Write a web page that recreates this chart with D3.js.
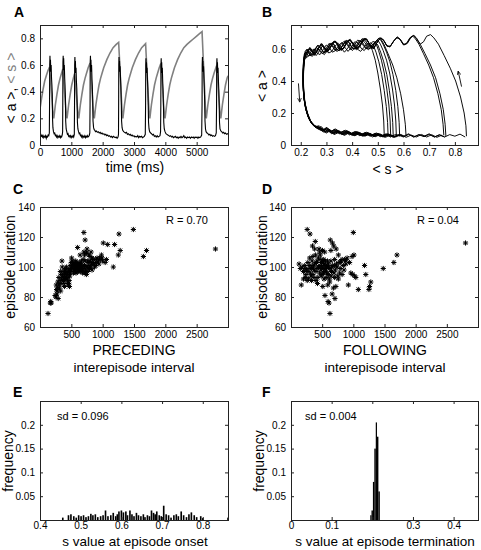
<!DOCTYPE html>
<html><head><meta charset="utf-8">
<script src="https://cdn.jsdelivr.net/npm/d3@7"></script>
<style>body{margin:0;background:#fff}svg{display:block}</style>
</head><body><svg id="c" width="481" height="550"></svg>
<script>
// ---------------- DATA ----------------
// Panel A: time series (ms, value)
const aTrace = [[0,0.08],[20,0.07],[40,0.065],[60,0.075],[80,0.06],[100,0.07],[120,0.055],[140,0.065],[160,0.06],[180,0.07],[200,0.05],[220,0.065],[240,0.06],[260,0.075],[280,0.07],[298,0.09],
[305,0.3],[310,0.6],[318,0.67],[326,0.6],[334,0.64],[345,0.55],[356,0.6],[368,0.5],[380,0.45],[392,0.38],[400,0.2],[412,0.13],[430,0.1],[450,0.085],[470,0.09],[490,0.07],[510,0.075],[530,0.06],[550,0.07],[570,0.055],[590,0.065],[610,0.06],[630,0.07],[650,0.055],[670,0.065],[690,0.06],[710,0.075],[722,0.1],
[728,0.35],[732,0.62],[740,0.67],[748,0.6],[756,0.65],[766,0.56],[776,0.6],[788,0.5],[800,0.44],[812,0.35],[820,0.18],[835,0.12],[855,0.1],[875,0.08],[895,0.085],[915,0.065],[935,0.07],[955,0.06],[975,0.07],[995,0.055],[1015,0.065],[1035,0.06],[1055,0.07],[1075,0.06],[1095,0.08],
[1102,0.3],[1106,0.6],[1114,0.66],[1122,0.58],[1130,0.63],[1140,0.54],[1150,0.58],[1162,0.48],[1175,0.42],[1186,0.3],[1194,0.17],[1210,0.12],[1230,0.1],[1250,0.085],[1270,0.09],[1290,0.07],[1310,0.075],[1330,0.06],[1350,0.07],[1370,0.055],[1390,0.065],[1410,0.06],[1430,0.07],[1450,0.055],[1470,0.065],[1490,0.06],[1510,0.07],[1530,0.06],[1550,0.065],[1570,0.07],[1590,0.09],
[1598,0.3],[1602,0.62],[1610,0.67],[1618,0.6],[1626,0.64],[1636,0.55],[1646,0.6],[1658,0.5],[1670,0.44],[1682,0.33],[1692,0.18],[1710,0.13],[1730,0.115],[1750,0.11],[1770,0.1],[1800,0.105],[1830,0.095],[1860,0.1],[1890,0.09],[1920,0.095],[1950,0.085],[1980,0.09],[2010,0.08],[2040,0.085],[2070,0.075],[2100,0.08],[2130,0.07],[2160,0.075],[2190,0.065],[2220,0.07],[2250,0.06],[2280,0.065],[2310,0.055],[2340,0.065],[2370,0.06],[2400,0.055],[2430,0.06],[2460,0.05],[2490,0.06],[2505,0.08],
[2510,0.3],[2514,0.6],[2522,0.66],[2530,0.58],[2538,0.63],[2548,0.55],[2558,0.59],[2570,0.5],[2582,0.43],[2594,0.32],[2604,0.18],[2620,0.13],[2640,0.11],[2670,0.1],[2700,0.095],[2730,0.09],[2760,0.095],[2790,0.08],[2820,0.085],[2850,0.075],[2880,0.08],[2910,0.07],[2940,0.075],[2970,0.065],[3000,0.07],[3030,0.06],[3060,0.065],[3090,0.06],[3120,0.07],[3150,0.055],[3180,0.065],[3210,0.06],[3240,0.065],[3270,0.055],[3300,0.06],[3330,0.065],[3360,0.08],
[3370,0.3],[3374,0.6],[3382,0.65],[3390,0.58],[3398,0.62],[3408,0.54],[3418,0.58],[3430,0.49],[3442,0.42],[3454,0.3],[3464,0.17],[3480,0.12],[3500,0.1],[3530,0.09],[3560,0.085],[3590,0.075],[3620,0.08],[3650,0.065],[3680,0.07],[3710,0.06],[3740,0.07],[3770,0.06],[3800,0.065],[3830,0.07],[3848,0.1],
[3856,0.3],[3860,0.6],[3868,0.65],[3876,0.58],[3884,0.62],[3894,0.54],[3904,0.58],[3916,0.48],[3928,0.41],[3940,0.3],[3950,0.17],[3966,0.12],[3990,0.1],[4020,0.085],[4050,0.08],[4080,0.075],[4110,0.07],[4140,0.065],[4170,0.07],[4200,0.06],[4230,0.065],[4260,0.055],[4290,0.06],[4320,0.065],[4350,0.055],[4380,0.06],[4410,0.05],[4440,0.06],[4470,0.055],[4500,0.065],[4530,0.055],[4560,0.06],[4590,0.07],[4620,0.055],[4650,0.06],[4680,0.05],[4710,0.06],[4740,0.055],[4770,0.06],[4800,0.05],[4830,0.06],[4860,0.055],[4890,0.06],[4920,0.05],[4950,0.06],[4980,0.055],[5010,0.06],[5040,0.05],[5070,0.06],[5100,0.055],[5130,0.06],[5160,0.075],
[5172,0.3],[5176,0.6],[5184,0.66],[5192,0.58],[5200,0.63],[5210,0.55],[5220,0.59],[5232,0.5],[5244,0.43],[5256,0.32],[5266,0.18],[5282,0.12],[5300,0.1],[5330,0.09],[5360,0.085],[5390,0.075],[5420,0.08],[5450,0.07],[5480,0.075],[5510,0.065],[5540,0.07],[5570,0.065],[5600,0.07],[5625,0.09],
[5635,0.3],[5639,0.6],[5647,0.65],[5655,0.58],[5663,0.62],[5673,0.54],[5683,0.58],[5695,0.48],[5707,0.41],[5719,0.3],[5729,0.17],[5745,0.12],[5770,0.105],[5800,0.1],[5830,0.09],[5860,0.095],[5890,0.085],[5920,0.09],[5950,0.08],[5980,0.085],[6000,0.08]];

const sTrace = [[0,0.27],[50,0.35],[100,0.42],[150,0.48],[200,0.52],[250,0.555],[305,0.585],
[335,0.49],[365,0.39],[395,0.3],[425,0.21],[440,0.2],
[465,0.25],[490,0.3],[540,0.38],[590,0.45],[640,0.5],[690,0.54],[728,0.57],
[758,0.47],[788,0.38],[818,0.29],[848,0.21],[863,0.2],
[888,0.25],[913,0.3],[963,0.38],[1013,0.45],[1063,0.5],[1102,0.535],
[1132,0.45],[1162,0.37],[1192,0.285],[1222,0.21],[1237,0.2],
[1262,0.25],[1287,0.3],[1337,0.38],[1387,0.45],[1437,0.5],[1487,0.54],[1537,0.58],[1598,0.615],
[1628,0.51],[1658,0.41],[1688,0.3],[1718,0.21],[1733,0.2],
[1758,0.25],[1783,0.3],[1833,0.38],[1883,0.45],[1933,0.5],[1983,0.54],[2033,0.58],[2133,0.64],[2233,0.69],[2333,0.73],[2433,0.755],[2510,0.77],
[2540,0.63],[2570,0.48],[2600,0.34],[2630,0.21],[2645,0.2],
[2670,0.25],[2695,0.3],[2745,0.38],[2795,0.45],[2845,0.5],[2895,0.54],[2945,0.58],[3045,0.64],[3145,0.69],[3245,0.73],[3370,0.76],
[3400,0.62],[3430,0.48],[3460,0.34],[3490,0.21],[3505,0.2],
[3530,0.25],[3555,0.3],[3605,0.38],[3655,0.45],[3705,0.5],[3755,0.54],[3805,0.58],[3856,0.61],
[3886,0.51],[3916,0.41],[3946,0.3],[3976,0.21],[3991,0.2],
[4016,0.25],[4041,0.3],[4091,0.38],[4141,0.45],[4191,0.5],[4241,0.54],[4291,0.58],[4391,0.64],[4491,0.69],[4591,0.73],[4691,0.755],[4791,0.775],[4891,0.795],[4991,0.815],[5091,0.835],[5172,0.85],
[5202,0.69],[5232,0.53],[5262,0.37],[5292,0.21],[5307,0.2],
[5332,0.25],[5357,0.3],[5407,0.38],[5457,0.45],[5507,0.5],[5557,0.54],[5635,0.595],
[5665,0.5],[5695,0.4],[5725,0.3],[5755,0.21],[5770,0.2],
[5795,0.25],[5820,0.3],[5870,0.38],[5920,0.45],[5970,0.5],[6000,0.52]];

// Panel B: phase-plane trajectories (<s>, <a>), one loop per episode
const bLoops = [
[[0.845,0.055],[0.843,0.12],[0.836,0.2],[0.822,0.3],[0.803,0.4],[0.782,0.48],[0.758,0.56],[0.736,0.63],[0.718,0.67],[0.705,0.69],[0.69,0.68],[0.678,0.645],[0.665,0.63],[0.652,0.66],[0.64,0.685],[0.628,0.67],[0.615,0.635],[0.6,0.625],[0.587,0.66],[0.575,0.675],[0.562,0.65],[0.548,0.615],[0.535,0.62],[0.522,0.655],[0.51,0.67],[0.497,0.64],[0.483,0.605],[0.47,0.62],[0.458,0.66],[0.445,0.665],[0.432,0.625],[0.418,0.6],[0.405,0.63],[0.393,0.66],[0.38,0.645],[0.367,0.605],[0.354,0.6],[0.342,0.64],[0.33,0.65],[0.317,0.615],[0.304,0.585],[0.292,0.61],[0.28,0.635],[0.268,0.6],[0.256,0.57],[0.245,0.59],[0.235,0.61],[0.225,0.58],[0.215,0.56],[0.21,0.5],[0.208,0.42],[0.21,0.34],[0.215,0.27],[0.223,0.21],[0.233,0.16],[0.247,0.125],[0.262,0.105],[0.28,0.09],[0.3,0.1],[0.32,0.075],[0.34,0.09],[0.36,0.07],[0.38,0.085],[0.4,0.065],[0.42,0.08],[0.44,0.06],[0.46,0.075],[0.48,0.06],[0.5,0.07],[0.52,0.055],[0.54,0.07],[0.56,0.05],[0.58,0.065],[0.6,0.055],[0.62,0.07],[0.64,0.05],[0.66,0.065],[0.68,0.055],[0.7,0.07],[0.72,0.05],[0.74,0.065],[0.76,0.05],[0.78,0.065],[0.8,0.055],[0.82,0.068],[0.84,0.05]],
[[0.765,0.055],[0.762,0.13],[0.755,0.22],[0.742,0.32],[0.725,0.42],[0.705,0.5],[0.684,0.57],[0.665,0.63],[0.65,0.67],[0.64,0.685],[0.628,0.675],[0.615,0.64],[0.602,0.625],[0.59,0.655],[0.577,0.675],[0.564,0.655],[0.55,0.62],[0.537,0.615],[0.525,0.65],[0.512,0.67],[0.5,0.65],[0.487,0.61],[0.474,0.615],[0.461,0.65],[0.449,0.665],[0.436,0.635],[0.422,0.6],[0.409,0.615],[0.396,0.65],[0.384,0.655],[0.371,0.615],[0.358,0.59],[0.346,0.62],[0.334,0.65],[0.321,0.63],[0.308,0.59],[0.296,0.595],[0.284,0.63],[0.272,0.615],[0.26,0.575],[0.248,0.575],[0.238,0.605],[0.228,0.59],[0.218,0.56],[0.212,0.52],[0.209,0.44],[0.21,0.36],[0.214,0.28],[0.221,0.22],[0.231,0.17],[0.244,0.13],[0.26,0.11],[0.275,0.1],[0.29,0.08],[0.305,0.095],[0.32,0.07],[0.34,0.085],[0.36,0.065],[0.38,0.08],[0.4,0.06],[0.42,0.075],[0.44,0.055],[0.46,0.07],[0.48,0.05],[0.5,0.068],[0.52,0.05],[0.54,0.065],[0.56,0.048],[0.58,0.062],[0.6,0.05],[0.62,0.066],[0.64,0.05],[0.66,0.064],[0.68,0.052],[0.7,0.066],[0.72,0.05],[0.74,0.062],[0.76,0.05]],
[[0.757,0.06],[0.754,0.13],[0.747,0.22],[0.734,0.32],[0.717,0.42],[0.698,0.5],[0.678,0.57],[0.66,0.63],[0.646,0.665],[0.636,0.68],[0.624,0.668],[0.611,0.632],[0.598,0.63],[0.586,0.662],[0.573,0.67],[0.56,0.645],[0.546,0.612],[0.533,0.625],[0.521,0.66],[0.508,0.665],[0.495,0.635],[0.482,0.6],[0.469,0.625],[0.457,0.66],[0.444,0.655],[0.43,0.615],[0.417,0.595],[0.404,0.63],[0.392,0.655],[0.379,0.64],[0.366,0.6],[0.353,0.595],[0.341,0.635],[0.329,0.645],[0.316,0.61],[0.303,0.58],[0.291,0.605],[0.279,0.63],[0.267,0.6],[0.255,0.565],[0.244,0.585],[0.234,0.605],[0.224,0.575],[0.216,0.55],[0.211,0.49],[0.21,0.41],[0.212,0.33],[0.217,0.26],[0.226,0.2],[0.237,0.155],[0.251,0.125],[0.267,0.11],[0.285,0.095],[0.3,0.075],[0.315,0.09],[0.33,0.065],[0.35,0.08],[0.37,0.06],[0.39,0.078],[0.41,0.058],[0.43,0.072],[0.45,0.055],[0.47,0.07],[0.49,0.052],[0.51,0.066],[0.53,0.048],[0.55,0.064],[0.57,0.05],[0.59,0.066],[0.61,0.048],[0.63,0.062],[0.65,0.05],[0.67,0.066],[0.69,0.05],[0.71,0.064],[0.73,0.048],[0.75,0.062]],
[[0.61,0.055],[0.607,0.13],[0.6,0.22],[0.589,0.32],[0.574,0.42],[0.558,0.5],[0.54,0.57],[0.525,0.625],[0.513,0.66],[0.505,0.67],[0.493,0.65],[0.48,0.615],[0.467,0.63],[0.455,0.665],[0.442,0.66],[0.428,0.62],[0.415,0.6],[0.402,0.635],[0.39,0.66],[0.377,0.64],[0.364,0.6],[0.351,0.6],[0.339,0.64],[0.327,0.645],[0.314,0.605],[0.301,0.58],[0.289,0.61],[0.277,0.625],[0.265,0.59],[0.253,0.56],[0.242,0.59],[0.232,0.6],[0.222,0.57],[0.214,0.54],[0.21,0.47],[0.209,0.39],[0.211,0.31],[0.216,0.25],[0.225,0.195],[0.236,0.15],[0.25,0.12],[0.266,0.105],[0.28,0.115],[0.295,0.085],[0.31,0.1],[0.325,0.075],[0.345,0.09],[0.365,0.07],[0.385,0.085],[0.405,0.065],[0.425,0.08],[0.445,0.06],[0.465,0.075],[0.485,0.058],[0.505,0.07],[0.525,0.052],[0.545,0.066],[0.565,0.05],[0.585,0.064],[0.605,0.052]],
[[0.525,0.06],[0.523,0.15],[0.518,0.25],[0.51,0.35],[0.5,0.45],[0.49,0.53],[0.479,0.59],[0.47,0.625],[0.458,0.635],[0.446,0.61],[0.433,0.585],[0.42,0.6],[0.408,0.635],[0.396,0.64],[0.383,0.605],[0.37,0.58],[0.358,0.605],[0.346,0.635],[0.334,0.62],[0.321,0.585],[0.309,0.575],[0.297,0.605],[0.285,0.62],[0.273,0.59],[0.261,0.56],[0.25,0.57],[0.24,0.595],[0.23,0.58],[0.221,0.55],[0.214,0.53],[0.211,0.46],[0.21,0.38],[0.213,0.3],[0.219,0.24],[0.228,0.19],[0.24,0.145],[0.255,0.12],[0.27,0.1],[0.285,0.105],[0.3,0.08],[0.315,0.095],[0.33,0.07],[0.35,0.088],[0.37,0.065],[0.39,0.08],[0.41,0.06],[0.43,0.078],[0.45,0.058],[0.47,0.072],[0.49,0.055],[0.51,0.068],[0.525,0.055]],
[[0.54,0.055],[0.538,0.14],[0.533,0.24],[0.525,0.34],[0.515,0.44],[0.504,0.52],[0.493,0.58],[0.483,0.62],[0.472,0.64],[0.46,0.62],[0.447,0.59],[0.435,0.605],[0.422,0.64],[0.41,0.645],[0.397,0.61],[0.384,0.585],[0.372,0.61],[0.36,0.64],[0.348,0.625],[0.335,0.59],[0.323,0.58],[0.311,0.61],[0.299,0.625],[0.287,0.595],[0.275,0.565],[0.263,0.575],[0.252,0.6],[0.242,0.59],[0.232,0.56],[0.222,0.545],[0.215,0.56],[0.212,0.5],[0.21,0.42],[0.211,0.34],[0.215,0.27],[0.222,0.215],[0.232,0.165],[0.245,0.13],[0.26,0.11],[0.275,0.11],[0.29,0.09],[0.305,0.105],[0.32,0.08],[0.34,0.095],[0.36,0.072],[0.38,0.09],[0.4,0.068],[0.42,0.082],[0.44,0.062],[0.46,0.078],[0.48,0.058],[0.5,0.072],[0.52,0.055],[0.54,0.065]],
[[0.55,0.06],[0.548,0.15],[0.543,0.25],[0.535,0.35],[0.525,0.45],[0.514,0.53],[0.503,0.59],[0.494,0.63],[0.483,0.65],[0.471,0.63],[0.458,0.6],[0.446,0.615],[0.433,0.65],[0.421,0.655],[0.408,0.62],[0.395,0.595],[0.383,0.62],[0.371,0.65],[0.359,0.635],[0.346,0.6],[0.334,0.59],[0.322,0.62],[0.31,0.635],[0.298,0.6],[0.286,0.57],[0.274,0.585],[0.262,0.61],[0.251,0.595],[0.24,0.565],[0.23,0.555],[0.221,0.58],[0.214,0.57],[0.21,0.51],[0.209,0.43],[0.21,0.35],[0.214,0.28],[0.22,0.22],[0.23,0.17],[0.243,0.135],[0.258,0.115],[0.272,0.12],[0.287,0.095],[0.302,0.11],[0.317,0.085],[0.335,0.1],[0.355,0.078],[0.375,0.092],[0.395,0.07],[0.415,0.085],[0.435,0.065],[0.455,0.08],[0.475,0.06],[0.495,0.075],[0.515,0.056],[0.535,0.07],[0.55,0.058]],
[[0.56,0.055],[0.558,0.14],[0.553,0.24],[0.545,0.34],[0.535,0.44],[0.523,0.52],[0.511,0.58],[0.5,0.625],[0.489,0.645],[0.477,0.625],[0.464,0.595],[0.452,0.61],[0.439,0.645],[0.427,0.65],[0.414,0.615],[0.401,0.59],[0.389,0.615],[0.377,0.645],[0.365,0.63],[0.352,0.595],[0.34,0.585],[0.328,0.615],[0.316,0.63],[0.304,0.595],[0.292,0.565],[0.28,0.58],[0.268,0.605],[0.257,0.585],[0.246,0.555],[0.236,0.56],[0.226,0.585],[0.217,0.575],[0.212,0.53],[0.21,0.45],[0.21,0.37],[0.213,0.29],[0.219,0.23],[0.228,0.18],[0.24,0.14],[0.255,0.115],[0.27,0.105],[0.285,0.085],[0.3,0.1],[0.315,0.078],[0.33,0.092],[0.35,0.07],[0.37,0.085],[0.39,0.063],[0.41,0.078],[0.43,0.058],[0.45,0.073],[0.47,0.055],[0.49,0.07],[0.51,0.052],[0.53,0.066],[0.55,0.05],[0.56,0.06]],
[[0.572,0.06],[0.57,0.15],[0.565,0.25],[0.557,0.35],[0.546,0.45],[0.534,0.53],[0.521,0.59],[0.51,0.63],[0.5,0.655],[0.488,0.64],[0.475,0.605],[0.462,0.605],[0.45,0.64],[0.437,0.66],[0.424,0.63],[0.411,0.6],[0.398,0.61],[0.386,0.645],[0.374,0.65],[0.361,0.615],[0.348,0.59],[0.336,0.605],[0.324,0.64],[0.312,0.625],[0.3,0.585],[0.288,0.58],[0.276,0.615],[0.264,0.62],[0.253,0.58],[0.242,0.56],[0.232,0.58],[0.223,0.595],[0.215,0.565],[0.211,0.5],[0.209,0.42],[0.21,0.34],[0.215,0.27],[0.223,0.21],[0.234,0.16],[0.248,0.125],[0.264,0.105],[0.28,0.1],[0.295,0.078],[0.31,0.094],[0.327,0.07],[0.345,0.086],[0.365,0.064],[0.385,0.08],[0.405,0.06],[0.425,0.075],[0.445,0.056],[0.465,0.072],[0.485,0.054],[0.505,0.068],[0.525,0.05],[0.545,0.066],[0.565,0.05],[0.572,0.06]],
[[0.585,0.055],[0.583,0.14],[0.578,0.24],[0.57,0.34],[0.559,0.44],[0.547,0.52],[0.534,0.58],[0.522,0.625],[0.512,0.655],[0.503,0.665],[0.491,0.645],[0.478,0.61],[0.465,0.615],[0.453,0.65],[0.44,0.665],[0.427,0.635],[0.414,0.6],[0.401,0.605],[0.389,0.64],[0.377,0.655],[0.364,0.625],[0.351,0.59],[0.339,0.6],[0.327,0.635],[0.315,0.635],[0.303,0.6],[0.291,0.575],[0.279,0.6],[0.267,0.625],[0.256,0.6],[0.245,0.565],[0.235,0.57],[0.225,0.6],[0.217,0.585],[0.212,0.54],[0.209,0.46],[0.209,0.38],[0.212,0.3],[0.218,0.235],[0.227,0.185],[0.239,0.145],[0.254,0.118],[0.27,0.115],[0.285,0.09],[0.3,0.108],[0.315,0.082],[0.332,0.098],[0.35,0.075],[0.37,0.09],[0.39,0.068],[0.41,0.083],[0.43,0.062],[0.45,0.077],[0.47,0.058],[0.49,0.073],[0.51,0.055],[0.53,0.068],[0.55,0.052],[0.57,0.066],[0.585,0.055]]
];
const bArrows = [[[0.191,0.385],[0.196,0.27]],[[0.826,0.365],[0.813,0.46]]];

// Panel C: preceding interepisode interval (ms) vs episode duration (ms)
const cPoints = [[128,69],[165,76],[172,77],[178,76],[240,81],[255,80],[270,82],[290,79],[265,85],[280,86],[300,88],[285,90],[310,86],[320,91],[330,89],[345,92],[300,93],[260,88],[275,84],[350,104],[355,100],[370,97],[380,95],[390,93],[400,96],[410,99],[420,94],[430,92],[440,90],[450,88],[460,95],[470,97],[480,99],[490,101],[500,103],[505,106],[515,104],[520,101],[530,99],[540,98],[550,100],[560,102],[570,104],[580,101],[590,99],[600,100],[610,98],[620,97],[630,101],[640,99],[650,97],[660,100],[670,98],[680,96],[700,97],[720,96],[740,95],[600,113],[700,123],[720,118],[735,109],[745,110],[760,104],[770,103],[780,101],[800,104],[820,102],[830,106],[850,105],[880,105],[900,103],[930,104],[950,106],[980,108],[1000,104],[1010,116],[1040,103],[1060,105],[1080,115],[1170,100],[1190,115],[1250,108],[1260,122],[1280,111],[1490,125],[1650,107],[1700,111],[2800,112],[360,94],[375,91],[395,98],[405,92],[415,97],[425,100],[435,96],[445,93],[455,98],[465,91],[475,94],[485,96],[495,98],[510,100],[525,102],[535,96],[545,103],[555,97],[565,99],[575,96],[585,103],[595,97],[605,102],[615,100],[625,98],[635,103],[645,101],[655,99],[665,102],[675,100],[690,99],[710,101],[730,98],[750,100],[760,97],[790,99],[810,100],[840,103],[860,102],[870,100],[890,101],[910,106],[940,102],[960,105],[990,106],[640,108],[660,104],[700,110],[710,108],[690,105],[750,112],[780,108],[800,107],[815,110],[830,98],[720,104],[740,100],[470,87],[455,89],[380,89],[390,87],[330,84],[340,95],[325,97]];
// Panel D: following interepisode interval (ms) vs episode duration (ms)
const dPoints = [[130,102],[150,99],[165,88],[180,100],[200,97],[220,101],[240,95],[250,98],[260,125],[270,103],[280,92],[290,99],[300,101],[305,122],[310,96],[320,94],[330,91],[340,104],[345,114],[350,107],[360,100],[370,98],[380,112],[390,117],[395,108],[400,97],[410,103],[420,99],[425,89],[430,93],[440,106],[450,112],[460,110],[470,101],[480,98],[485,94],[490,103],[500,100],[505,111],[510,87],[520,99],[525,105],[530,102],[540,97],[545,81],[550,104],[560,98],[565,93],[570,100],[580,101],[590,88],[595,77],[600,102],[610,76],[615,92],[620,99],[625,69],[630,118],[640,104],[645,94],[650,97],[660,82],[665,116],[670,101],[680,86],[685,114],[690,96],[700,105],[705,79],[710,98],[720,87],[725,112],[740,100],[750,94],[760,108],[770,103],[780,96],[790,99],[800,104],[820,105],[840,101],[860,105],[880,102],[900,106],[920,88],[940,103],[960,96],[980,107],[990,95],[1000,123],[1010,108],[1020,94],[1040,93],[1080,85],[1180,101],[1200,95],[1250,85],[1260,87],[1280,90],[1480,99],[1650,103],[1700,108],[2800,116],[230,93],[260,91],[300,106],[330,99],[350,95],[380,102],[400,91],[420,104],[440,100],[460,96],[470,108],[500,95],[510,104],[530,92],[540,110],[555,101],[575,96],[585,104],[600,95],[620,90],[640,111],[660,100],[700,93],[730,102],[760,92],[790,103],[820,95],[850,98],[880,104],[230,99],[270,97],[350,101],[370,93],[450,100],[480,105],[520,96],[600,100],[700,101],[200,92]];

// Panel E: histogram of s at onset (bin centre, frequency)
const eBinWidth = 0.004;
const eBins = [[0.456,0.005],[0.47,0.01],[0.476,0.012],[0.483,0.008],[0.489,0.005],[0.495,0.01],[0.501,0.008],[0.507,0.01],[0.513,0.006],[0.519,0.008],[0.525,0.013],[0.53,0.01],[0.536,0.012],[0.542,0.006],[0.549,0.008],[0.555,0.01],[0.561,0.02],[0.567,0.008],[0.574,0.01],[0.58,0.015],[0.586,0.008],[0.59,0.012],[0.594,0.018],[0.6,0.02],[0.605,0.016],[0.611,0.018],[0.615,0.01],[0.621,0.02],[0.626,0.012],[0.631,0.008],[0.637,0.015],[0.642,0.01],[0.648,0.008],[0.654,0.012],[0.658,0.006],[0.664,0.01],[0.669,0.008],[0.674,0.02],[0.679,0.015],[0.683,0.012],[0.687,0.018],[0.693,0.01],[0.698,0.008],[0.704,0.03],[0.71,0.012],[0.716,0.01],[0.722,0.005],[0.729,0.01],[0.735,0.012],[0.74,0.008],[0.747,0.018],[0.753,0.01],[0.76,0.006],[0.766,0.012],[0.772,0.016],[0.779,0.01],[0.785,0.006],[0.795,0.008],[0.8,0.004],[0.862,0.005]];
// Panel F: histogram of s at termination (bin start, bin end, frequency)
const fBins = [[0.195,0.198,0.01],[0.198,0.2015,0.02],[0.2015,0.205,0.08],[0.205,0.2085,0.15],[0.2085,0.2115,0.205],[0.2115,0.215,0.175],[0.215,0.2185,0.06]];

// Axes ticks
const aXTicks=[0,1000,2000,3000,4000,5000], aYTicks=[0,0.2,0.4,0.6,0.8];
const bXTicks=[0.2,0.3,0.4,0.5,0.6,0.7,0.8], bYTicks=[0,0.2,0.4,0.6];
const cdXTicks=[500,1000,1500,2000,2500], cdYTicks=[60,80,100,120,140];
const eXTicks=[0.4,0.5,0.6,0.7,0.8], fXTicks=[0,0.1,0.2,0.3,0.4], efYTicks=[0.05,0.1,0.15,0.2];
const fXTickLabels=["0","0.1","","0.3","0.4"];

// ---------------- DRAWING ----------------
const FONT='"Liberation Sans", Arial, Helvetica, sans-serif';
const svg=d3.select("#c").attr("font-family",FONT);
const defs=svg.append("defs");
defs.append("marker").attr("id","ah").attr("viewBox","0 0 6 6").attr("refX",5).attr("refY",3)
  .attr("markerWidth",5).attr("markerHeight",5).attr("orient","auto")
  .append("path").attr("d","M0,0.5L5.5,3L0,5.5").attr("fill","none").attr("stroke","#000").attr("stroke-width",1);

function makePanel(id,box,xd,yd){
  const x=d3.scaleLinear().domain(xd).range([box[0],box[1]]);
  const y=d3.scaleLinear().domain(yd).range([box[3],box[2]]);
  defs.append("clipPath").attr("id","clip"+id).append("rect")
    .attr("x",box[0]).attr("y",box[2]).attr("width",box[1]-box[0]).attr("height",box[3]-box[2]);
  const g=svg.append("g").attr("clip-path",`url(#clip${id})`);
  return {x,y,box,g};
}
function fmt(v){return String(+v.toFixed(4));}
function drawAxes(p,xt,yt,xfmt,yfmt,xpad){
  const [x0,x1,y0,y1]=p.box;
  const g=svg.append("g").attr("font-family",FONT);
  const fs=10;
  g.append("g").attr("transform",`translate(0,${y1})`)
    .call(d3.axisBottom(p.x).tickValues(xt).tickSizeInner(-3).tickSizeOuter(0).tickPadding(xpad==null?4:xpad).tickFormat(xfmt||fmt));
  g.append("g").attr("transform",`translate(0,${y0})`)
    .call(d3.axisTop(p.x).tickValues(xt).tickSizeInner(-3).tickSizeOuter(0).tickFormat(""));
  g.append("g").attr("transform",`translate(${x0},0)`)
    .call(d3.axisLeft(p.y).tickValues(yt).tickSizeInner(-3).tickSizeOuter(0).tickPadding(5).tickFormat(yfmt||fmt));
  g.append("g").attr("transform",`translate(${x1},0)`)
    .call(d3.axisRight(p.y).tickValues(yt).tickSizeInner(-3).tickSizeOuter(0).tickFormat(""));
  g.selectAll(".domain").remove();
  g.selectAll(".tick line").attr("stroke","#222");
  g.selectAll("text").attr("font-size",fs).attr("font-family",FONT).attr("fill","#000");
  g.append("rect").attr("x",x0+0.5).attr("y",y0+0.5).attr("width",x1-x0).attr("height",y1-y0)
    .attr("fill","none").attr("stroke","#222").attr("stroke-width",1);
}
function text(x,y,s,opt={}){
  const t=svg.append("text").attr("x",x).attr("y",y).text(s)
    .attr("font-size",opt.size||14).attr("text-anchor",opt.anchor||"middle")
    .attr("font-weight",opt.weight||"normal").attr("fill",opt.fill||"#000");
  if(opt.rot) t.attr("transform",`rotate(-90,${x},${y})`);
  return t;
}

// Panel A
const pA=makePanel("A",[40,228,25,145],[0,6000],[0,0.9]);
pA.g.append("path").datum(sTrace).attr("fill","none").attr("stroke","#808080").attr("stroke-width",1.6)
  .attr("d",d3.line().x(d=>pA.x(d[0])).y(d=>pA.y(d[1])));
pA.g.append("path").datum(aTrace).attr("fill","none").attr("stroke","#000").attr("stroke-width",1.1)
  .attr("d",d3.line().x(d=>pA.x(d[0])).y(d=>pA.y(d[1])));
drawAxes(pA,aXTicks,aYTicks);

// Panel B
const pB=makePanel("B",[291,478,25,145],[0.162,0.89],[0,0.75]);
const bLine=d3.line().x(d=>pB.x(d[0])).y(d=>pB.y(d[1]));
pB.g.selectAll("path.loop").data(bLoops).join("path").attr("class","loop")
  .attr("fill","none").attr("stroke","#000").attr("stroke-width",0.95).attr("d",bLine);
svg.selectAll("path.arr").data(bArrows).join("path").attr("class","arr")
  .attr("fill","none").attr("stroke","#000").attr("stroke-width",0.9).attr("marker-end","url(#ah)").attr("d",bLine);
drawAxes(pB,bXTicks,bYTicks);

// Panels C and D
const star="M-2.6,0H2.6M0,-2.6V2.6M-1.9,-1.9L1.9,1.9M-1.9,1.9L1.9,-1.9";
const pC=makePanel("C",[40,228,207,327],[0,3000],[60,140]);
pC.g.selectAll("path").data(cPoints).join("path").attr("d",star)
  .attr("transform",d=>`translate(${pC.x(d[0])},${pC.y(d[1])})`).attr("stroke","#000").attr("stroke-width",1).attr("fill","none");
drawAxes(pC,cdXTicks,cdYTicks);
const pD=makePanel("D",[291,478,207,327],[0,3000],[60,140]);
pD.g.selectAll("path").data(dPoints).join("path").attr("d",star)
  .attr("transform",d=>`translate(${pD.x(d[0])},${pD.y(d[1])})`).attr("stroke","#000").attr("stroke-width",1).attr("fill","none");
drawAxes(pD,cdXTicks,cdYTicks);

// Panel E
const pE=makePanel("E",[40,228,401,520],[0.4,0.862],[0,0.25]);
pE.g.selectAll("rect").data(eBins).join("rect")
  .attr("x",d=>pE.x(d[0]-eBinWidth/2)).attr("width",d=>pE.x(d[0]+eBinWidth/2)-pE.x(d[0]-eBinWidth/2))
  .attr("y",d=>pE.y(d[1])).attr("height",d=>pE.y(0)-pE.y(d[1])).attr("fill","#000");
drawAxes(pE,eXTicks,efYTicks,null,null,2);

// Panel F
const pF=makePanel("F",[291,478,401,520],[0,0.46],[0,0.25]);
pF.g.selectAll("rect").data(fBins).join("rect")
  .attr("x",d=>pF.x(d[0])).attr("width",d=>pF.x(d[1])-pF.x(d[0]))
  .attr("y",d=>pF.y(d[2])).attr("height",d=>pF.y(0)-pF.y(d[2])).attr("fill","#000");
drawAxes(pF,fXTicks,efYTicks,(d,i)=>fXTickLabels[i],null,2);

// Panel letters
[["A",14,17],["B",262,17],["C",13,194],["D",262,194],["E",13,397],["F",262,397]].forEach(l=>
  text(l[1],l[2],l[0],{size:14,weight:"bold",anchor:"start"}));

// Axis labels
text(135,172,"time (ms)");
const yl=svg.append("text").attr("transform","translate(16,88) rotate(-90)").attr("text-anchor","middle").attr("font-size",14);
yl.append("tspan").text("< a >, ");
yl.append("tspan").attr("fill","#808080").text("< s >");
text(267,86,"< a >",{rot:true});
text(388,174,"< s >");
text(15,267,"episode duration",{rot:true});
text(134,355,"PRECEDING");
text(134,372,"interepisode interval",{size:13.5});
text(267,267,"episode duration",{rot:true});
text(385,355,"FOLLOWING");
text(385,372,"interepisode interval",{size:13.5});
text(13,461,"frequency",{rot:true});
text(135,546,"s value at episode onset",{size:13.5});
text(264,461,"frequency",{rot:true});
text(385,546,"s value at episode termination",{size:13.5});

// Annotations
text(166,224,"R = 0.70",{size:11,anchor:"start"});
text(417,224,"R = 0.04",{size:11,anchor:"start"});
text(57,420,"sd = 0.096",{size:11,anchor:"start"});
text(305,420,"sd = 0.004",{size:11,anchor:"start"});
</script></body></html>
